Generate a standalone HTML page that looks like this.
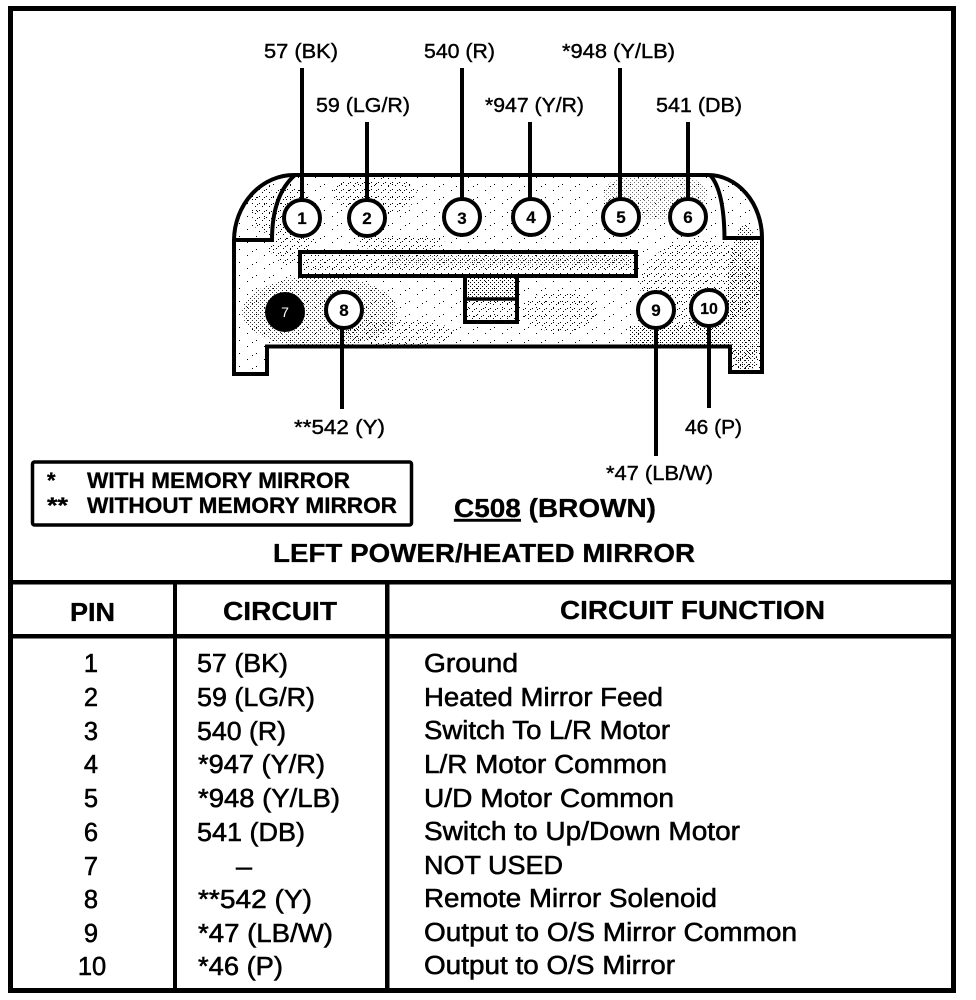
<!DOCTYPE html>
<html>
<head>
<meta charset="utf-8">
<style>
html,body{margin:0;padding:0;background:#fff;width:976px;height:1000px;overflow:hidden}
svg{display:block}
text{font-family:"Liberation Sans",sans-serif;fill:#000;stroke:#000}
.r{font-size:25.500px;stroke-width:.55px}
.l{font-size:20px;stroke-width:.4px}
.h{font-size:25.500px;font-weight:bold;stroke-width:.3px}
.g{font-size:22px;font-weight:bold;stroke-width:.3px}
.n{font-size:17px;font-weight:bold;stroke-width:.2px}
.ln{stroke:#000;stroke-width:4;fill:none}
</style>
</head>
<body>
<svg width="976" height="1000" viewBox="0 0 976 1000" xmlns="http://www.w3.org/2000/svg">
<defs>
<pattern id="dense" width="4" height="4" patternUnits="userSpaceOnUse">
<rect x="0" y="0" width="1" height="1" fill="#000" shape-rendering="crispEdges"/>
<rect x="2" y="2" width="1" height="1" fill="#000" shape-rendering="crispEdges"/>
</pattern>
<pattern id="mid" width="7" height="7" patternUnits="userSpaceOnUse">
<rect x="0" y="0" width="1" height="1" fill="#000" shape-rendering="crispEdges"/>
<rect x="3" y="3" width="1" height="1" fill="#000" shape-rendering="crispEdges"/>
<rect x="5" y="1" width="1" height="1" fill="#000" shape-rendering="crispEdges"/>
</pattern>
<pattern id="sparse" width="17" height="13" patternUnits="userSpaceOnUse">
<rect x="1" y="2" width="1" height="1" fill="#000" shape-rendering="crispEdges"/>
<rect x="9" y="8" width="1" height="1" fill="#000" shape-rendering="crispEdges"/>
<rect x="14" y="4" width="1" height="1" fill="#000" shape-rendering="crispEdges"/>
</pattern>
<clipPath id="body"><path d="M234,374 L267,374 L267,346.500 L730,346.500 L730,372 L762,372 L762,238 A54,63 0 0 0 708,175 L294,175 A60,66 0 0 0 234,240 Z"/></clipPath>
</defs>

<rect x="0" y="0" width="976" height="1000" fill="#fff"/>

<!-- connector body stipple -->
<g clip-path="url(#body)">
<rect x="230" y="170" width="540" height="210" fill="url(#sparse)"/>
<ellipse cx="320" cy="312" rx="78" ry="36" fill="url(#dense)" opacity=".8"/>
<ellipse cx="400" cy="333" rx="55" ry="13" fill="url(#mid)"/>
<ellipse cx="375" cy="195" rx="42" ry="20" fill="url(#mid)"/>
<ellipse cx="290" cy="225" rx="26" ry="40" fill="url(#mid)"/>
<ellipse cx="262" cy="205" rx="11" ry="28" fill="url(#mid)"/>
<ellipse cx="400" cy="243" rx="45" ry="8" fill="url(#mid)"/>
<ellipse cx="560" cy="312" rx="38" ry="20" fill="url(#mid)"/>
<ellipse cx="655" cy="195" rx="52" ry="24" fill="url(#dense)" opacity=".55"/>
<ellipse cx="700" cy="285" rx="60" ry="45" fill="url(#mid)"/>
<ellipse cx="745" cy="300" rx="18" ry="75" fill="url(#dense)" opacity=".9"/>
<rect x="630" y="326" width="100" height="20" fill="url(#dense)"/>
<ellipse cx="725" cy="325" rx="36" ry="22" fill="url(#dense)" opacity=".8"/>
<rect x="732" y="345" width="30" height="27" fill="url(#mid)"/>
<ellipse cx="735" cy="205" rx="15" ry="24" fill="url(#sparse)"/>
</g>

<!-- slot interior stipple -->
<rect x="303" y="254" width="332" height="20" fill="url(#mid)"/>
<rect x="305" y="256" width="160" height="16" fill="url(#sparse)"/>
<rect x="390" y="256" width="240" height="10" fill="url(#dense)" opacity=".6"/>
<rect x="467" y="278" width="48" height="20" fill="url(#dense)"/>
<rect x="467" y="301" width="48" height="19" fill="url(#mid)"/>

<!-- connector outline -->
<path class="ln" d="M234,374 L267,374 L267,346.500 L730,346.500 L730,372 L762,372 L762,238 A54,63 0 0 0 708,175 L294,175 A60,66 0 0 0 234,240 Z"/>
<path class="ln" d="M295,175 Q272,195 272,240 L233,240"/>
<path class="ln" d="M710,175 Q724,190 724.500,238 L763,238"/>
<rect class="ln" x="300" y="252" width="336" height="24"/>
<path class="ln" d="M465,276 L465,322 L517,322 L517,276"/>
<path d="M465,299 L517,299" stroke="#000" stroke-width="3.500" fill="none"/>

<!-- leader lines -->
<g class="ln">
<line x1="302" y1="68" x2="302" y2="200"/>
<line x1="367" y1="122" x2="367" y2="200"/>
<line x1="462" y1="68" x2="462" y2="199"/>
<line x1="530" y1="122" x2="530" y2="199"/>
<line x1="620" y1="68" x2="620" y2="199"/>
<line x1="688" y1="122" x2="688" y2="199"/>
<line x1="342" y1="328" x2="342" y2="409"/>
<line x1="656" y1="328" x2="656" y2="456"/>
<line x1="709" y1="326" x2="709" y2="408"/>
</g>

<!-- pins -->
<g fill="#fff" stroke="#000" stroke-width="4">
<circle cx="302" cy="218" r="18"/>
<circle cx="367" cy="218" r="18"/>
<circle cx="462" cy="217" r="18"/>
<circle cx="531" cy="217" r="18"/>
<circle cx="621" cy="217" r="18"/>
<circle cx="688" cy="217" r="18"/>
<circle cx="344" cy="310" r="18"/>
<circle cx="656" cy="310" r="18"/>
<circle cx="709" cy="308" r="18"/>
</g>
<circle cx="285" cy="312" r="20" fill="#000"/>
<g text-anchor="middle">
<text class="n" x="302" y="224">1</text>
<text class="n" x="367" y="224">2</text>
<text class="n" x="462" y="224">3</text>
<text class="n" x="531" y="223">4</text>
<text class="n" x="621" y="223">5</text>
<text class="n" x="688" y="223">6</text>
<text class="n" x="344" y="316">8</text>
<text class="n" x="656" y="316">9</text>
<text class="n" x="709" y="314" style="font-size:16px">10</text>
<text x="285" y="317" style="font-size:14px;fill:#fff;stroke:none">7</text>
</g>

<!-- wire labels -->
<text class="l" x="264" y="58" textLength="74" lengthAdjust="spacingAndGlyphs">57 (BK)</text>
<text class="l" x="424" y="58" textLength="71" lengthAdjust="spacingAndGlyphs">540 (R)</text>
<text class="l" x="562" y="58" textLength="113" lengthAdjust="spacingAndGlyphs">*948 (Y/LB)</text>
<text class="l" x="316" y="112" textLength="94" lengthAdjust="spacingAndGlyphs">59 (LG/R)</text>
<text class="l" x="485" y="112" textLength="99" lengthAdjust="spacingAndGlyphs">*947 (Y/R)</text>
<text class="l" x="656" y="112" textLength="86" lengthAdjust="spacingAndGlyphs">541 (DB)</text>
<text class="l" x="294" y="434" textLength="91" lengthAdjust="spacingAndGlyphs">**542 (Y)</text>
<text class="l" x="685" y="434" textLength="57" lengthAdjust="spacingAndGlyphs">46 (P)</text>
<text class="l" x="606" y="480" textLength="107" lengthAdjust="spacingAndGlyphs">*47 (LB/W)</text>

<!-- legend -->
<rect x="32.500" y="462" width="379" height="63" rx="2" fill="#fff" stroke="#000" stroke-width="3.500"/>
<text class="g" x="47" y="488">*</text>
<text class="g" x="47" y="513" textLength="21" lengthAdjust="spacingAndGlyphs">**</text>
<text class="g" x="87" y="488" textLength="263" lengthAdjust="spacingAndGlyphs">WITH MEMORY MIRROR</text>
<text class="g" x="87" y="513" textLength="310" lengthAdjust="spacingAndGlyphs">WITHOUT MEMORY MIRROR</text>

<!-- titles -->
<text class="h" x="454" y="517" textLength="202" lengthAdjust="spacingAndGlyphs"><tspan text-decoration="underline">C508</tspan> (BROWN)</text>
<text class="h" x="273" y="562" textLength="422" lengthAdjust="spacingAndGlyphs">LEFT POWER/HEATED MIRROR</text>

<!-- frame and table -->
<rect x="10.500" y="8.500" width="943" height="982" fill="none" stroke="#000" stroke-width="5"/>
<rect x="11" y="580" width="942" height="4.500" fill="#000"/>
<rect x="11" y="634" width="942" height="4.500" fill="#000"/>
<rect x="173" y="582" width="4" height="407" fill="#000"/>
<rect x="385" y="582" width="4.500" height="407" fill="#000"/>

<text class="h" x="70" y="621" textLength="45" lengthAdjust="spacingAndGlyphs">PIN</text>
<text class="h" x="223" y="620" textLength="114" lengthAdjust="spacingAndGlyphs">CIRCUIT</text>
<text class="h" x="560" y="619" textLength="265" lengthAdjust="spacingAndGlyphs">CIRCUIT FUNCTION</text>

<!-- pin column -->
<g text-anchor="middle">
<text class="r" x="91" y="672">1</text>
<text class="r" x="91" y="706">2</text>
<text class="r" x="91" y="740">3</text>
<text class="r" x="91" y="773">4</text>
<text class="r" x="91" y="807">5</text>
<text class="r" x="91" y="841">6</text>
<text class="r" x="91" y="875">7</text>
<text class="r" x="91" y="908">8</text>
<text class="r" x="91" y="942">9</text>
<text class="r" x="92" y="975">10</text>
</g>

<!-- circuit column -->
<text class="r" x="197" y="672" textLength="91" lengthAdjust="spacingAndGlyphs">57 (BK)</text>
<text class="r" x="197" y="706" textLength="118" lengthAdjust="spacingAndGlyphs">59 (LG/R)</text>
<text class="r" x="197" y="740" textLength="89" lengthAdjust="spacingAndGlyphs">540 (R)</text>
<text class="r" x="198" y="773" textLength="127" lengthAdjust="spacingAndGlyphs">*947 (Y/R)</text>
<text class="r" x="198" y="807" textLength="142" lengthAdjust="spacingAndGlyphs">*948 (Y/LB)</text>
<text class="r" x="197" y="841" textLength="108" lengthAdjust="spacingAndGlyphs">541 (DB)</text>
<text class="r" x="236" y="875" textLength="16" lengthAdjust="spacingAndGlyphs">–</text>
<text class="r" x="198" y="908" textLength="114" lengthAdjust="spacingAndGlyphs">**542 (Y)</text>
<text class="r" x="198" y="942" textLength="135" lengthAdjust="spacingAndGlyphs">*47 (LB/W)</text>
<text class="r" x="198" y="975" textLength="85" lengthAdjust="spacingAndGlyphs">*46 (P)</text>

<!-- function column -->
<text class="r" x="424" y="672" textLength="94" lengthAdjust="spacingAndGlyphs">Ground</text>
<text class="r" x="424" y="706" textLength="239" lengthAdjust="spacingAndGlyphs">Heated Mirror Feed</text>
<text class="r" x="424" y="739" textLength="246" lengthAdjust="spacingAndGlyphs">Switch To L/R Motor</text>
<text class="r" x="424" y="773" textLength="243" lengthAdjust="spacingAndGlyphs">L/R Motor Common</text>
<text class="r" x="424" y="807" textLength="250" lengthAdjust="spacingAndGlyphs">U/D Motor Common</text>
<text class="r" x="424" y="840" textLength="316" lengthAdjust="spacingAndGlyphs">Switch to Up/Down Motor</text>
<text class="r" x="424" y="874" textLength="139" lengthAdjust="spacingAndGlyphs">NOT USED</text>
<text class="r" x="424" y="907" textLength="293" lengthAdjust="spacingAndGlyphs">Remote Mirror Solenoid</text>
<text class="r" x="424" y="941" textLength="373" lengthAdjust="spacingAndGlyphs">Output to O/S Mirror Common</text>
<text class="r" x="424" y="974" textLength="251" lengthAdjust="spacingAndGlyphs">Output to O/S Mirror</text>
</svg>
</body>
</html>
